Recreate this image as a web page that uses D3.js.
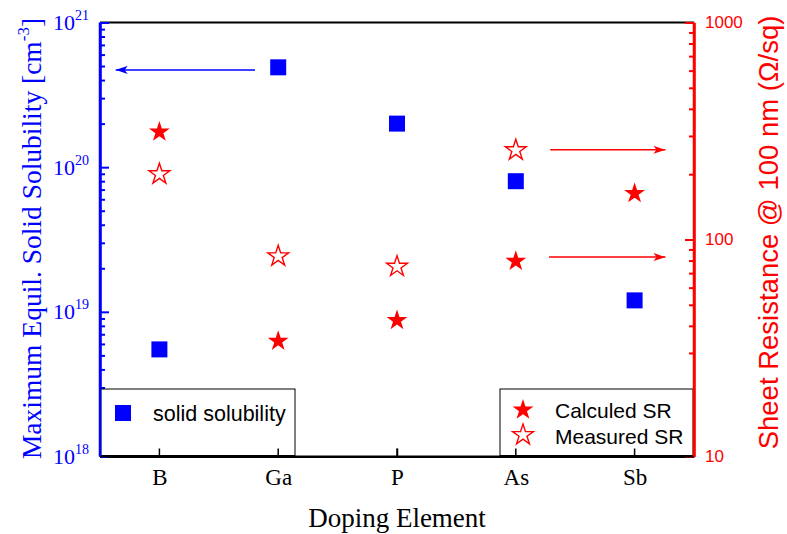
<!DOCTYPE html>
<html>
<head>
<meta charset="utf-8">
<script src="https://cdn.jsdelivr.net/npm/d3@7/dist/d3.min.js"></script>
<style>
  html, body { margin: 0; padding: 0; background: #fff; }
  svg { display: block; }
</style>
</head>
<body>
<svg id="chart" width="787" height="534"></svg>
<script>
// ---------------- data ----------------
const categories = ["B", "Ga", "P", "As", "Sb"];
const solidSolubility = [5.5e18, 4.9e20, 2.0e20, 8.0e19, 1.2e19];      // cm^-3 (left axis)
const calculatedSR = [313, 34, 42.4, 79.4, 163];                         // ohm/sq (right axis)
const measuredSR = [200, 83.7, 75, 258, null];                           // ohm/sq (right axis)
const leftTickExponents = [18, 19, 20, 21];
const rightTickValues = [10, 100, 1000];
const leftTitle = "Maximum Equil. Solid Solubility [cm";
const rightTitle = "Sheet Resistance @ 100 nm (\u03A9/sq)";
const xTitle = "Doping Element";
const legendLeft = ["solid solubility"];
const legendRight = ["Calculed SR", "Measured SR"];
// arrows: [xFrom (category index, 1-based), xTo, yValue, axis]
const arrows = [
  {x1: 1.805, x2: 0.632, y: 4.7e20, axis: "left"},
  {x1: 4.29, x2: 5.26, y: 259, axis: "right"},
  {x1: 4.28, x2: 5.26, y: 83, axis: "right"}
];

// ---------------- layout ----------------
const svg = d3.select("#chart");
const L = 100, R = 694, T = 22.5, B = 456.5;
const BLUE = "#0000ff", RED = "#ff0000";

const x = d3.scalePoint().domain(categories).range([L, R]).padding(0.5);
const xLin = d3.scaleLinear().domain([0.5, categories.length + 0.5]).range([L, R]);
const yL = d3.scaleLog().domain([1e18, 1e21]).range([B, T]);
const yR = d3.scaleLog().domain([10, 1000]).range([B, T]);

// minor ticks
function minorTicks(lo, hi) {
  const out = [];
  for (let d = lo; d < hi; d *= 10) for (let k = 2; k <= 9; k++) out.push(d * k);
  return out;
}

// frame top (black)
svg.append("line").attr("x1", L).attr("x2", R).attr("y1", T).attr("y2", T)
  .attr("stroke", "#000").attr("stroke-width", 2);

// bottom axis
const gx = svg.append("g").attr("transform", `translate(0,${B})`)
  .call(d3.axisBottom(x).tickSize(-8).tickSizeOuter(0).tickPadding(14));
gx.select(".domain").attr("stroke", "#000").attr("stroke-width", 2);
gx.selectAll(".tick line").attr("stroke", "#000").attr("stroke-width", 1.5);
gx.selectAll(".tick text").attr("font-family", "'Liberation Serif', 'Times New Roman', serif")
  .attr("font-size", 23).attr("fill", "#000").attr("dy", "0.71em").attr("y", 12);

// left axis (blue)
const gyMinor = svg.append("g").attr("transform", `translate(${L},0)`)
  .call(d3.axisLeft(yL).tickValues(minorTicks(1e18, 1e21)).tickSize(-5).tickFormat(""));
gyMinor.select(".domain").remove();
gyMinor.selectAll(".tick line").attr("stroke", BLUE).attr("stroke-width", 2);
const gyL = svg.append("g").attr("transform", `translate(${L},0)`)
  .call(d3.axisLeft(yL).tickValues(leftTickExponents.map(e => Math.pow(10, e))).tickSize(-9).tickSizeOuter(0).tickFormat(""));
gyL.select(".domain").attr("stroke", BLUE).attr("stroke-width", 2.5);
gyL.selectAll(".tick line").attr("stroke", BLUE).attr("stroke-width", 2);
leftTickExponents.forEach(e => {
  const t = svg.append("text")
    .attr("x", 89).attr("y", yL(Math.pow(10, e)) + 7.5)
    .attr("text-anchor", "end")
    .attr("font-family", "'Liberation Serif', 'Times New Roman', serif")
    .attr("font-size", 22).attr("fill", BLUE);
  t.append("tspan").text("10");
  t.append("tspan").attr("font-size", 14).attr("dy", -10).text(String(e));
});

// right axis (red)
const gyRMinor = svg.append("g").attr("transform", `translate(${R},0)`)
  .call(d3.axisRight(yR).tickValues(minorTicks(10, 1000)).tickSize(-5).tickFormat(""));
gyRMinor.select(".domain").remove();
gyRMinor.selectAll(".tick line").attr("stroke", RED).attr("stroke-width", 2);
const gyR = svg.append("g").attr("transform", `translate(${R},0)`)
  .call(d3.axisRight(yR).tickValues(rightTickValues).tickSize(-9).tickSizeOuter(0).tickFormat(d3.format("d")));
gyR.select(".domain").attr("stroke", RED).attr("stroke-width", 2.5);
gyR.selectAll(".tick line").attr("stroke", RED).attr("stroke-width", 2);
gyR.selectAll(".tick text").attr("x", 11).attr("font-family", "'Liberation Sans', Arial, sans-serif")
  .attr("font-size", 17).attr("fill", RED);

// axis titles
const lt = svg.append("text")
  .attr("transform", `translate(41,238.5) rotate(-90)`)
  .attr("text-anchor", "middle")
  .attr("font-family", "'Liberation Serif', 'Times New Roman', serif")
  .attr("font-size", 27.5).attr("fill", BLUE);
lt.append("tspan").text(leftTitle);
lt.append("tspan").attr("font-size", 17).attr("dy", -12).text("-3");
lt.append("tspan").attr("dy", 12).text("]");

svg.append("text")
  .attr("transform", `translate(778,232.5) rotate(-90)`)
  .attr("text-anchor", "middle")
  .attr("font-family", "'Liberation Sans', Arial, sans-serif")
  .attr("font-size", 27.5).attr("fill", RED).text(rightTitle);

svg.append("text")
  .attr("x", (L + R) / 2).attr("y", 527)
  .attr("text-anchor", "middle")
  .attr("font-family", "'Liberation Serif', 'Times New Roman', serif")
  .attr("font-size", 27).attr("fill", "#000").text(xTitle);

// arrows
const defs = svg.append("defs");
[["arrBlue", BLUE], ["arrRed", RED]].forEach(([id, c]) => {
  defs.append("marker").attr("id", id).attr("viewBox", "0 0 12 8")
    .attr("refX", 12).attr("refY", 4).attr("markerWidth", 12).attr("markerHeight", 8)
    .attr("markerUnits", "userSpaceOnUse").attr("orient", "auto")
    .append("path").attr("d", "M0,0 L12,4 L0,8 L3,4 Z").attr("fill", c);
});
arrows.forEach(a => {
  const ys = a.axis === "left" ? yL : yR;
  const c = a.axis === "left" ? BLUE : RED;
  svg.append("line")
    .attr("x1", xLin(a.x1)).attr("x2", xLin(a.x2))
    .attr("y1", ys(a.y)).attr("y2", ys(a.y))
    .attr("stroke", c).attr("stroke-width", 1.5)
    .attr("marker-end", `url(#${a.axis === "left" ? "arrBlue" : "arrRed"})`);
});

// markers
const star = d3.symbol().type(d3.symbolStar).size(135);
const square = d3.symbol().type(d3.symbolSquare).size(256);

svg.append("g").selectAll("path").data(categories)
  .join("path")
  .attr("transform", (d, i) => `translate(${x(d)},${yL(solidSolubility[i])})`)
  .attr("d", square).attr("fill", BLUE);

svg.append("g").selectAll("path").data(categories)
  .join("path")
  .attr("transform", (d, i) => `translate(${x(d)},${yR(calculatedSR[i])})`)
  .attr("d", star).attr("fill", RED);

svg.append("g").selectAll("path").data(categories.filter((d, i) => measuredSR[i] != null))
  .join("path")
  .attr("transform", d => `translate(${x(d)},${yR(measuredSR[categories.indexOf(d)])})`)
  .attr("d", star).attr("fill", "none").attr("stroke", RED).attr("stroke-width", 1.4);

// legends
const legFont = "'Liberation Sans', Arial, sans-serif";
const lg1 = svg.append("g");
lg1.append("rect").attr("x", L + 1).attr("y", 389).attr("width", 295 - L - 1).attr("height", B - 389 - 1)
  .attr("fill", "#fff").attr("stroke", "#000").attr("stroke-width", 1);
lg1.append("path").attr("transform", "translate(123,413)").attr("d", square).attr("fill", BLUE);
lg1.append("text").attr("x", 153).attr("y", 421).attr("font-family", legFont)
  .attr("font-size", 21.5).attr("fill", "#000").text(legendLeft[0]);

const lg2 = svg.append("g");
lg2.append("rect").attr("x", 500).attr("y", 389).attr("width", R - 1 - 500).attr("height", B - 389 - 1)
  .attr("fill", "#fff").attr("stroke", "#000").attr("stroke-width", 1);
lg2.append("path").attr("transform", "translate(523,410)").attr("d", star).attr("fill", RED);
lg2.append("path").attr("transform", "translate(523,435)").attr("d", star)
  .attr("fill", "none").attr("stroke", RED).attr("stroke-width", 1.4);
lg2.append("text").attr("x", 555).attr("y", 418).attr("font-family", legFont)
  .attr("font-size", 21).attr("fill", "#000").text(legendRight[0]);
lg2.append("text").attr("x", 555).attr("y", 444).attr("font-family", legFont)
  .attr("font-size", 21).attr("fill", "#000").text(legendRight[1]);

// redraw bottom ticks and axis lines over legend boxes
svg.append("g").selectAll("line").data(categories).join("line")
  .attr("x1", d => x(d)).attr("x2", d => x(d)).attr("y1", B).attr("y2", B - 8)
  .attr("stroke", "#000").attr("stroke-width", 1.5);
svg.append("line").attr("x1", L).attr("x2", R).attr("y1", B).attr("y2", B)
  .attr("stroke", "#000").attr("stroke-width", 2);
svg.append("line").attr("x1", L).attr("x2", L).attr("y1", T).attr("y2", B)
  .attr("stroke", BLUE).attr("stroke-width", 2.5);
svg.append("line").attr("x1", R).attr("x2", R).attr("y1", T).attr("y2", B)
  .attr("stroke", RED).attr("stroke-width", 2.5);
</script>
</body>
</html>
